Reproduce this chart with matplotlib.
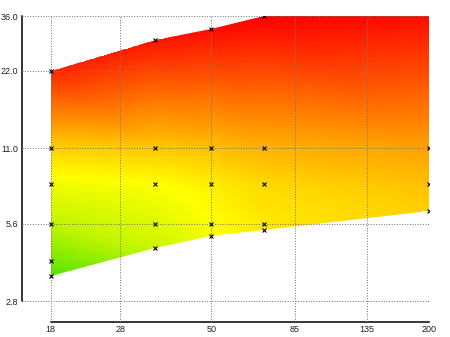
import numpy as np
import matplotlib
matplotlib.use("Agg")
import matplotlib.pyplot as plt
import matplotlib.tri as mtri
from matplotlib.colors import LinearSegmentedColormap
from matplotlib.patches import Polygon

# measured points (marked with x)
pt_x = [18, 18, 18, 18, 18, 18,
        35, 35, 35, 35, 35,
        50, 50, 50, 50, 50,
        70, 70, 70, 70, 70,
        200, 200, 200]
pt_y = [3.5, 4.0, 5.6, 8.0, 11.0, 22.0,
        4.5, 5.6, 8.0, 11.0, 29.0,
        5.0, 5.6, 8.0, 11.0, 32.0,
        5.3, 5.6, 8.0, 11.0, 36.0,
        6.3, 8.0, 11.0]
pt_z = [0.04, 0.12, 0.27, 0.37, 0.51, 0.91,
        0.29, 0.33, 0.40, 0.53, 0.95,
        0.38, 0.40, 0.44, 0.55, 0.97,
        0.46, 0.45, 0.49, 0.58, 1.00,
        0.51, 0.55, 0.62]

# unmarked corner of the region
corner_x, corner_y, corner_z = 200, 36.0, 0.97

# outline of the filled region
upper_x = [18, 35, 50, 70, 200]
upper_y = [22.0, 29.0, 32.0, 36.0, 36.0]
lower_x = [18, 35, 50, 70, 200]
lower_y = [3.5, 4.5, 5.0, 5.3, 6.3]

x_ticks = [18, 28, 50, 85, 135, 200]
y_ticks = [2.8, 5.6, 11.0, 22.0, 36.0]

cmap = LinearSegmentedColormap.from_list(
    "gyr", [(0.0, (0.24, 0.88, 0.0)), (0.4, (1.0, 1.0, 0.0)), (1.0, (1.0, 0.0, 0.0))])

fig = plt.figure(figsize=(4.5, 3.37), dpi=100)
ax = fig.add_axes([22 / 450, 1 - 322 / 337, (429 - 22) / 450, (322 - 16) / 337])
ax.set_xscale("log")
ax.set_yscale("log")
ax.set_xlim(15.0, 200)
ax.set_ylim(2.32, 36.0)

# colour surface: linear interpolation over a triangulation in log space
nx = np.array(pt_x + [corner_x], dtype=float)
ny = np.array(pt_y + [corner_y], dtype=float)
nz = np.array(pt_z + [corner_z], dtype=float)
log_tri = mtri.Triangulation(np.log(nx), np.log(ny))
interp = mtri.LinearTriInterpolator(log_tri, nz)
lx = np.linspace(np.log(min(pt_x)), np.log(max(pt_x)), 420)
ly = np.linspace(np.log(min(lower_y)), np.log(max(upper_y)), 340)
LX, LY = np.meshgrid(lx, ly)
Z = interp(LX, LY)
mesh = ax.pcolormesh(np.exp(LX), np.exp(LY), Z, shading="nearest", cmap=cmap,
                     vmin=0, vmax=1, zorder=1, rasterized=True)
outline = np.column_stack([upper_x + lower_x[::-1], upper_y + lower_y[::-1]])
clip = Polygon(outline, closed=True, transform=ax.transData, facecolor="none", edgecolor="none")
ax.add_patch(clip)
mesh.set_clip_path(clip)

ax.plot(pt_x, pt_y, linestyle="none", marker="x", markersize=2.2,
        markeredgewidth=0.8, color="black", zorder=4)

ax.set_xticks(x_ticks)
ax.set_xticklabels([str(v) for v in x_ticks])
ax.set_yticks(y_ticks)
ax.set_yticklabels([f"{v:.1f}" for v in y_ticks])
ax.minorticks_off()
ax.tick_params(length=0, labelsize=6.5, colors="#202020", pad=2.5)
for lab in ax.get_xticklabels() + ax.get_yticklabels():
    lab.set_fontfamily("Liberation Sans")

ax.grid(True, color="#777777", linewidth=0.72, linestyle=(0, (1, 1.6)), zorder=3)
ax.set_axisbelow(False)

for s in ("top", "right"):
    ax.spines[s].set_visible(False)
ax.spines["left"].set_bounds(2.8, 36.0)
ax.spines["bottom"].set_bounds(18, 200)
ax.spines["left"].set_linewidth(1.1)
ax.spines["bottom"].set_linewidth(1.1)

fig.savefig("out.png", dpi=100)
